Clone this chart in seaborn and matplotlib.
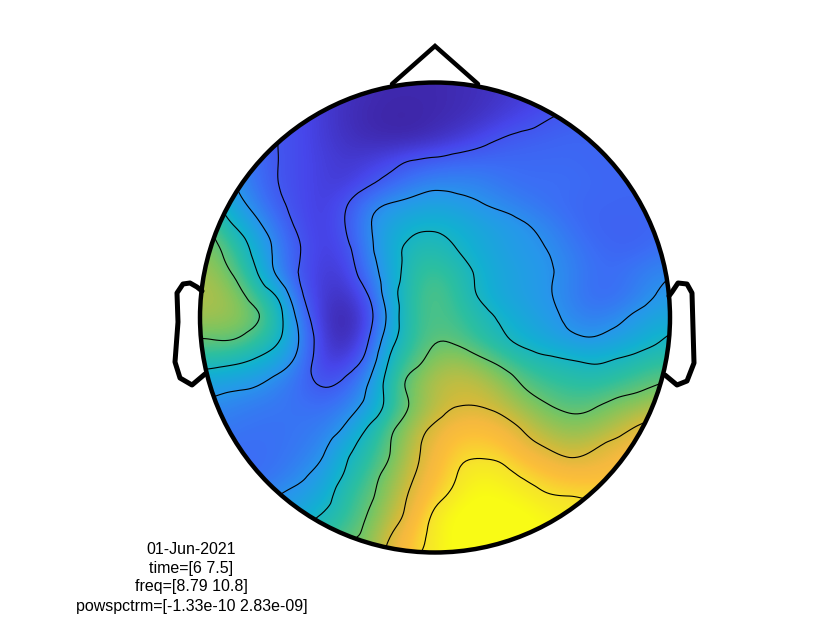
import numpy as np
import matplotlib
matplotlib.use("Agg")
import matplotlib.pyplot as plt
import matplotlib.tri as mtri
from matplotlib.colors import LinearSegmentedColormap
from matplotlib.patches import Circle
import seaborn as sns

# values, in percent of the colour range (top of head first)
row_01 = [15, 14, 13, 12, 10, 7, 4, 2, 1, 1, 1, 2, 3, 5, 7, 9, 11, 12, 13, 14, 14]
row_02 = [18, 16, 15, 14, 11, 7, 3, 1, 0, 0, 1, 2, 4, 7, 10, 13, 15, 16, 17, 17, 17]
row_03 = [22, 20, 17, 14, 11, 7, 4, 2, 1, 1, 3, 6, 10, 14, 16, 17, 18, 18, 18, 18, 18]
row_04 = [36, 27, 20, 14, 11, 8, 6, 7, 10, 14, 16, 18, 19, 19, 19, 19, 19, 18, 18, 18, 18]
row_05 = [42, 30, 21, 14, 11, 8, 7, 12, 18, 23, 26, 26, 25, 22, 20, 20, 20, 19, 18, 18, 18]
row_06 = [47, 35, 25, 16, 11, 8, 13, 24, 30, 33, 35, 33, 30, 27, 24, 21, 19, 18, 18, 18, 18]
row_07 = [56, 44, 33, 21, 12, 8, 14, 27, 36, 41, 42, 40, 36, 33, 30, 26, 21, 18, 17, 17, 18]
row_08 = [60, 52, 39, 25, 14, 8, 11, 25, 38, 46, 47, 43, 38, 34, 31, 29, 24, 20, 18, 18, 21]
row_09 = [64, 56, 44, 26, 13, 7, 8, 22, 36, 49, 52, 48, 41, 36, 33, 30, 26, 21, 20, 23, 26]
row_10 = [66, 62, 52, 40, 16, 6, 4, 14, 37, 50, 55, 50, 42, 36, 33, 30, 25, 20, 20, 24, 30]
row_11 = [64, 63, 58, 47, 23, 5, 0, 9, 34, 51, 54, 52, 47, 41, 36, 32, 27, 24, 26, 31, 36]
row_12 = [57, 57, 52, 44, 27, 7, 1, 13, 38, 50, 56, 55, 50, 45, 40, 36, 32, 30, 33, 37, 42]
row_13 = [47, 45, 41, 35, 23, 8, 8, 20, 45, 54, 62, 64, 60, 54, 49, 46, 44, 42, 44, 47, 50]
row_14 = [34, 32, 30, 25, 19, 13, 17, 29, 49, 60, 67, 69, 68, 63, 56, 52, 50, 49, 51, 54, 57]
row_15 = [27, 25, 23, 22, 21, 20, 24, 33, 48, 59, 67, 71, 71, 68, 63, 58, 55, 56, 60, 63, 66]
row_16 = [23, 22, 21, 21, 22, 24, 31, 44, 55, 65, 73, 78, 79, 76, 70, 65, 62, 63, 67, 72, 76]
row_17 = [20, 20, 20, 21, 23, 28, 40, 48, 57, 68, 76, 83, 84, 82, 76, 72, 69, 71, 75, 78, 80]
row_18 = [19, 19, 20, 22, 27, 33, 44, 52, 61, 70, 78, 86, 91, 89, 84, 80, 77, 77, 78, 80, 80]
row_19 = [19, 20, 24, 29, 32, 38, 49, 55, 64, 73, 82, 90, 96, 94, 91, 87, 86, 85, 85, 84, 82]
row_20 = [20, 24, 28, 32, 38, 45, 50, 58, 67, 76, 89, 97, 100, 100, 97, 93, 90, 88, 88, 87, 85]
row_21 = [30, 34, 38, 42, 47, 51, 56, 61, 72, 81, 90, 97, 100, 100, 99, 96, 92, 90, 90, 88, 86]

contour_levels = [14, 29, 43, 57, 71, 86]

info_lines = ["01-Jun-2021", "time=[6 7.5]", "freq=[8.79 10.8]", "powspctrm=[-1.33e-10 2.83e-09]"]

# head outline, figure pixels
nose_x = [392, 435, 478]
nose_y = [84, 46, 84]
left_ear_x = [202, 197, 190, 183, 177, 178, 175, 180, 192, 205]
left_ear_y = [291, 287, 283, 284, 293, 322, 362, 378, 385, 374]
right_ear_x = [669, 672, 678, 687, 692, 694, 687, 677, 665]
right_ear_y = [296, 292, 283, 284, 293, 363, 381, 385, 375]

parula = LinearSegmentedColormap.from_list("parula_like", [
    (0.0, "#3e26a8"), (0.1, "#4746eb"), (0.2, "#3b6ef5"), (0.3, "#2797eb"),
    (0.4, "#12b1d0"), (0.5, "#2cbfa0"), (0.6, "#7dc55f"), (0.7, "#d0bb3b"),
    (0.76, "#f5b93f"), (0.8, "#fcc038"), (0.87, "#f6e52a"), (0.95, "#f9fb15"),
    (1.0, "#f9fb15")])

grid = np.array([row_01, row_02, row_03, row_04, row_05, row_06, row_07,
                 row_08, row_09, row_10, row_11, row_12, row_13, row_14,
                 row_15, row_16, row_17, row_18, row_19, row_20, row_21], dtype=float)

sns.set_theme(style="white")
plt.rcParams['font.family'] = ['Liberation Sans', 'DejaVu Sans']

fig = plt.figure(figsize=(8.4, 6.3), dpi=100)
ax = fig.add_axes([200 / 840, 1 - 552 / 630, 470 / 840, 470 / 630])
sns.heatmap(grid, ax=ax, cmap=parula, vmin=0, vmax=100, cbar=False,
            xticklabels=False, yticklabels=False)

n = grid.shape[0]
# smooth the colour field at draw time, on top of the heatmap cells
im = ax.imshow(grid, cmap=parula, vmin=0, vmax=100, extent=(0, n, n, 0),
               interpolation="bicubic", aspect="auto", zorder=1.5)

# contour lines: one extra ring of cells so they run out to the head outline
padded = np.pad(grid, 1, mode="reflect", reflect_type="odd")
pos = np.arange(n + 2) - 0.5
xx, yy = np.meshgrid(pos, pos)
tri = mtri.Triangulation(xx.ravel(), yy.ravel())
fine_tri, fine_z = mtri.UniformTriRefiner(tri).refine_field(padded.ravel(), subdiv=3)
cs = ax.tricontour(fine_tri, fine_z, levels=contour_levels, colors="black",
                   linewidths=0.8, zorder=2)
ax.set_xlim(0, n)
ax.set_ylim(n, 0)
ax.axis("off")

clip = Circle((0.5, 0.5), 0.5, transform=ax.transAxes)
for art in [ax.collections[0], im, cs]:
    art.set_clip_path(clip)

# outline and text in figure pixels
over = fig.add_axes([0, 0, 1, 1], facecolor="none")
over.set_xlim(0, 840)
over.set_ylim(630, 0)
over.axis("off")
over.add_patch(Circle((435, 317.5), 235, fill=False, edgecolor="black", linewidth=3.2))
over.plot(nose_x, nose_y, color="black", linewidth=3.2, solid_joinstyle="miter")
over.plot(left_ear_x, left_ear_y, color="black", linewidth=3.6)
over.plot(right_ear_x, right_ear_y, color="black", linewidth=3.6)

for line, y in zip(info_lines, [549, 568, 587, 606]):
    over.text(191.5, y, line, ha="center", va="center", fontsize=11.5, color="black")

fig.savefig("out.png", dpi=100)
